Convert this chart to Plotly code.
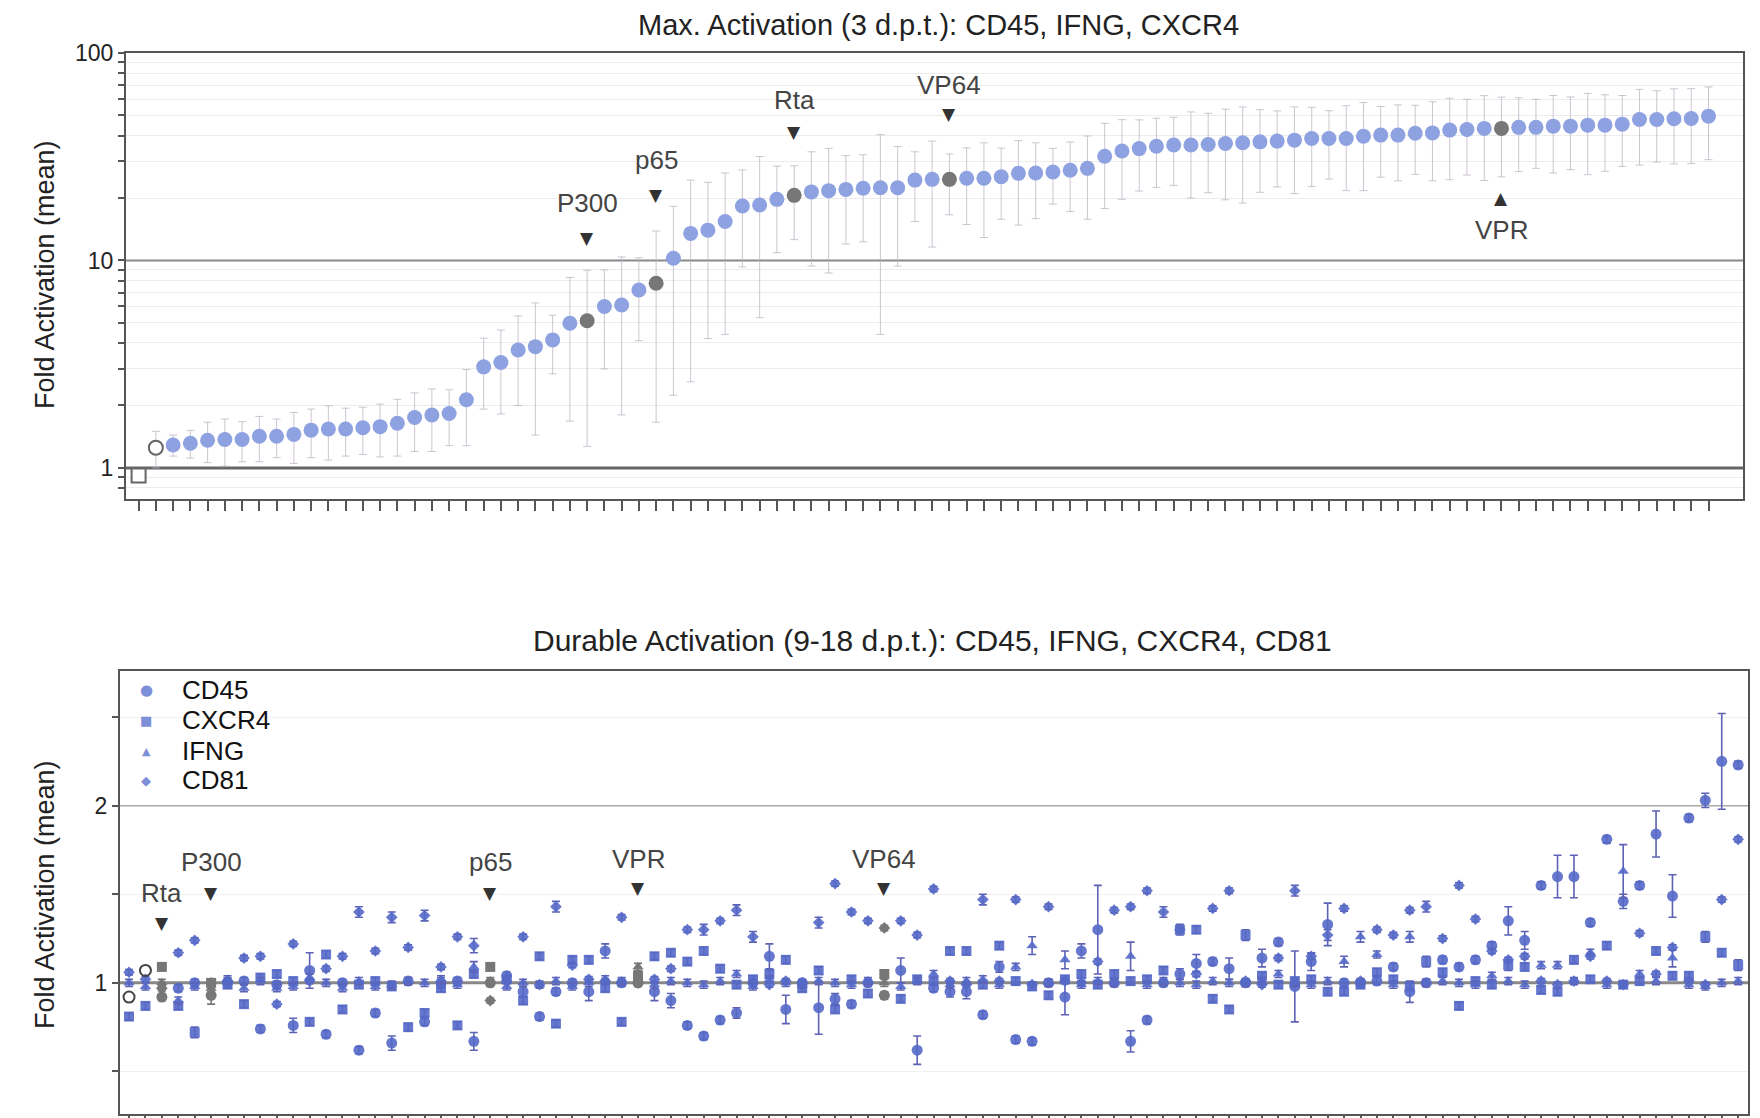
import math
import plotly.graph_objects as go

# ---------------- data: top panel (max activation, 3 d.p.t.) ----------------
top_values = [
    0.92, 1.25,
    1.29, 1.315, 1.36, 1.37, 1.37, 1.42, 1.42, 1.45, 1.52, 1.54,
    1.54, 1.56, 1.58, 1.64, 1.75, 1.80, 1.83, 2.13, 3.07, 3.22,
    3.70, 3.84, 4.14, 4.98, 5.12, 6.0, 6.1, 7.2, 7.76, 10.24,
    13.5, 14.0, 15.4, 18.3, 18.5, 19.7, 20.6, 21.4, 21.7, 22.0,
    22.3, 22.4, 22.4, 24.4, 24.6, 24.6, 24.9, 24.9, 25.3, 26.3,
    26.4, 26.7, 27.2, 27.8, 31.8, 33.7, 34.6, 35.5, 36.0, 36.0,
    36.2, 36.6, 36.9, 37.3, 37.6, 38.0, 38.7, 38.7, 38.7, 39.7,
    40.2, 40.2, 41.0, 41.2, 42.5, 42.8, 43.3, 43.3, 43.8, 43.8,
    44.4, 44.4, 44.9, 44.9, 45.4, 47.8, 47.8, 48.2, 48.3, 49.6,
]
top_sd = [
    0.0, 0.25,
    0.15, 0.2, 0.3, 0.35, 0.3, 0.35, 0.3, 0.4, 0.4, 0.45,
    0.4, 0.4, 0.45, 0.5, 0.55, 0.6, 0.55, 0.85, 1.15, 1.4,
    1.7, 2.4, 1.3, 3.3, 3.85, 3.0, 4.3, 3.1, 6.1, 8.0,
    10.9, 9.8, 11.0, 9.0, 13.2, 8.8, 8.0, 12.0, 13.0, 10.0,
    10.0, 18.0, 13.0, 9.0, 13.0, 8.0, 10.0, 12.0, 9.5, 11.5,
    10.5, 8.0, 10.0, 12.0, 14.0, 14.0, 13.0, 13.0, 13.0, 16.0,
    15.0, 17.0, 18.0, 16.0, 15.0, 17.0, 16.0, 14.0, 17.0, 18.0,
    15.0, 16.0, 15.0, 17.0, 18.0, 17.0, 19.0, 18.0, 17.0, 16.0,
    18.0, 17.0, 19.0, 18.0, 17.0, 19.0, 18.0, 19.0, 19.0, 19.0,
]
top_hl_names = ["P300", "p65", "Rta", "VP64", "VPR"]
top_hl_idx = [26, 30, 38, 47, 79]
top_open_idx = [0, 1]
top_open_symbols = ["square", "circle"]
top_ref_levels = [1, 10]

# ---------------- data: bottom panel (durable activation, 9-18 d.p.t.) ----------------
genes = ["CD45", "CXCR4", "IFNG", "CD81"]
cd45 = [
    0.92, 1.07, 0.92, 0.97, 1.00, 0.93, 1.00, 1.01, 0.74, 0.99,
    0.76, 1.07, 0.71, 1.00, 0.62, 0.83, 0.66, 1.01, 0.78, 1.00,
    1.01, 0.67, 1.00, 1.04, 0.95, 0.81, 0.95, 1.00, 0.95, 1.18,
    1.00, 1.00, 0.95, 0.90, 0.76, 0.70, 0.79, 0.83, 1.00, 1.15,
    0.85, 1.00, 0.86, 0.91, 0.88, 1.00, 0.93, 1.07, 0.62, 0.97,
    0.95, 0.95, 0.82, 1.09, 0.68, 0.67, 1.00, 0.92, 1.18, 1.30,
    1.00, 0.67, 0.79, 1.00, 1.05, 1.11, 1.12, 1.08, 1.00, 1.14,
    1.23, 0.98, 1.12, 1.33, 1.00, 1.00, 1.01, 1.09, 0.95, 1.00,
    1.13, 1.09, 1.13, 1.21, 1.35, 1.24, 1.55, 1.60, 1.60, 1.34,
    1.81, 1.46, 1.55, 1.84, 1.49, 1.93, 2.03, 2.25, 2.23,
]
cxcr4 = [
    0.81, 0.87, 1.09, 0.87, 0.72, 1.00, 0.99, 0.88, 1.03, 1.05,
    1.01, 0.78, 1.16, 0.85, 0.99, 1.01, 0.98, 0.75, 0.83, 0.97,
    0.76, 1.05, 1.09, 1.02, 0.90, 1.15, 0.77, 1.13, 1.13, 0.97,
    0.78, 1.04, 1.15, 1.17, 1.12, 1.18, 1.08, 0.99, 1.02, 1.05,
    1.13, 0.97, 1.07, 0.85, 1.02, 0.94, 1.05, 0.91, 1.02, 1.01,
    1.18, 1.18, 0.99, 1.21, 1.01, 0.98, 0.93, 1.02, 1.05, 0.99,
    1.05, 1.01, 1.02, 1.07, 1.30, 1.30, 0.91, 0.85, 1.27, 1.04,
    0.99, 1.01, 1.02, 0.95, 0.95, 0.99, 1.06, 1.02, 0.98, 1.12,
    1.06, 0.87, 1.01, 0.99, 1.10, 1.09, 0.96, 0.95, 1.13, 1.02,
    1.21, 0.99, 1.01, 1.18, 1.04, 1.04, 1.26, 1.17, 1.10,
]
ifng = [
    1.00, 0.98, 1.00, 0.90, 0.98, 0.97, 1.02, 0.97, 1.01, 0.97,
    0.98, 1.03, 1.00, 0.97, 1.01, 0.98, 0.99, 1.01, 1.00, 1.02,
    0.99, 1.09, 1.01, 0.98, 1.00, 0.99, 1.01, 0.98, 1.00, 1.02,
    1.01, 1.09, 0.99, 1.01, 1.00, 0.99, 1.01, 1.05, 0.98, 1.02,
    1.00, 0.99, 1.01, 1.00, 0.99, 1.01, 1.00, 0.98, 1.01, 1.05,
    0.99, 1.01, 1.02, 0.99, 1.09, 1.21, 1.00, 1.13, 0.99, 1.01,
    1.00, 1.15, 0.99, 1.01, 1.00, 0.99, 1.01, 1.00, 1.00, 1.01,
    1.05, 1.00, 0.99, 1.01, 1.12, 1.26, 1.16, 0.99, 1.26, 1.00,
    1.01, 1.00, 0.99, 1.04, 1.01, 0.99, 1.10, 1.10, 1.01, 1.17,
    0.99, 1.63, 1.05, 1.01, 1.14, 0.99, 0.98, 1.00, 1.01,
]
cd81 = [
    1.06, 1.02, 0.97, 1.17, 1.24, 1.00, 1.01, 1.14, 1.15, 0.88,
    1.22, 1.01, 1.08, 1.15, 1.40, 1.18, 1.37, 1.20, 1.38, 1.09,
    1.26, 1.21, 0.90, 1.01, 1.26, 0.99, 1.43, 1.10, 1.02, 1.01,
    1.37, 1.00, 1.02, 1.08, 1.30, 1.30, 1.35, 1.41, 1.26, 0.99,
    1.01, 1.00, 1.34, 1.56, 1.40, 1.35, 1.31, 1.35, 1.27, 1.53,
    1.01, 0.99, 1.47, 1.01, 1.47, 0.99, 1.43, 1.01, 1.00, 1.12,
    1.41, 1.43, 1.52, 1.40, 1.30, 1.05, 1.42, 1.52, 1.01, 0.99,
    1.14, 1.52, 1.15, 1.27, 1.42, 1.01, 1.30, 1.27, 1.41, 1.43,
    1.25, 1.55, 1.36, 1.18, 1.13, 1.15, 1.01, 0.99, 1.01, 1.15,
    1.01, 0.99, 1.28, 1.05, 1.20, 1.01, 0.99, 1.47, 1.81,
]
cd45_err = [
    0.02, 0.02, 0.02, 0.02, 0.02, 0.05, 0.03, 0.02, 0.02, 0.02,
    0.04, 0.10, 0.02, 0.02, 0.02, 0.02, 0.04, 0.02, 0.02, 0.03,
    0.02, 0.05, 0.02, 0.02, 0.03, 0.02, 0.02, 0.02, 0.05, 0.04,
    0.02, 0.02, 0.05, 0.04, 0.02, 0.02, 0.02, 0.03, 0.02, 0.07,
    0.08, 0.02, 0.15, 0.03, 0.02, 0.02, 0.02, 0.07, 0.08, 0.02,
    0.03, 0.04, 0.02, 0.03, 0.02, 0.02, 0.02, 0.10, 0.04, 0.25,
    0.02, 0.06, 0.02, 0.02, 0.03, 0.05, 0.02, 0.06, 0.02, 0.05,
    0.02, 0.20, 0.05, 0.12, 0.02, 0.02, 0.02, 0.02, 0.06, 0.02,
    0.02, 0.02, 0.02, 0.02, 0.08, 0.05, 0.02, 0.12, 0.12, 0.02,
    0.02, 0.04, 0.02, 0.13, 0.12, 0.02, 0.04, 0.27, 0.02,
]
cxcr4_err = [
    0.02, 0.02, 0.02, 0.02, 0.03, 0.02, 0.02, 0.02, 0.02, 0.02,
    0.02, 0.02, 0.02, 0.02, 0.02, 0.02, 0.02, 0.02, 0.02, 0.02,
    0.02, 0.02, 0.02, 0.02, 0.02, 0.02, 0.02, 0.02, 0.02, 0.02,
    0.02, 0.02, 0.02, 0.02, 0.02, 0.02, 0.02, 0.02, 0.02, 0.02,
    0.02, 0.02, 0.02, 0.02, 0.02, 0.02, 0.02, 0.02, 0.02, 0.02,
    0.02, 0.02, 0.02, 0.02, 0.02, 0.02, 0.02, 0.02, 0.02, 0.02,
    0.02, 0.02, 0.02, 0.02, 0.03, 0.02, 0.02, 0.02, 0.03, 0.02,
    0.02, 0.02, 0.02, 0.02, 0.02, 0.02, 0.02, 0.02, 0.02, 0.03,
    0.02, 0.02, 0.02, 0.02, 0.03, 0.02, 0.02, 0.02, 0.02, 0.02,
    0.02, 0.02, 0.02, 0.02, 0.02, 0.02, 0.03, 0.02, 0.03,
]
ifng_err = [
    0.02, 0.02, 0.02, 0.02, 0.02, 0.02, 0.02, 0.02, 0.02, 0.02,
    0.02, 0.02, 0.02, 0.02, 0.02, 0.02, 0.02, 0.02, 0.02, 0.02,
    0.02, 0.03, 0.02, 0.02, 0.02, 0.02, 0.02, 0.02, 0.02, 0.02,
    0.02, 0.02, 0.02, 0.02, 0.02, 0.02, 0.02, 0.02, 0.02, 0.02,
    0.02, 0.02, 0.02, 0.02, 0.02, 0.02, 0.02, 0.02, 0.02, 0.02,
    0.02, 0.02, 0.02, 0.02, 0.02, 0.05, 0.02, 0.05, 0.02, 0.02,
    0.02, 0.08, 0.02, 0.02, 0.02, 0.02, 0.02, 0.02, 0.02, 0.02,
    0.02, 0.02, 0.02, 0.02, 0.03, 0.03, 0.02, 0.02, 0.03, 0.02,
    0.02, 0.02, 0.02, 0.02, 0.02, 0.02, 0.02, 0.02, 0.02, 0.02,
    0.02, 0.15, 0.02, 0.02, 0.05, 0.02, 0.02, 0.02, 0.02,
]
cd81_err = [
    0.015, 0.015, 0.015, 0.015, 0.015, 0.015, 0.015, 0.015, 0.015, 0.015,
    0.015, 0.015, 0.015, 0.015, 0.03, 0.015, 0.03, 0.015, 0.03, 0.015,
    0.015, 0.04, 0.015, 0.015, 0.015, 0.015, 0.03, 0.015, 0.015, 0.015,
    0.015, 0.015, 0.015, 0.015, 0.015, 0.03, 0.015, 0.03, 0.03, 0.015,
    0.015, 0.015, 0.03, 0.015, 0.015, 0.015, 0.015, 0.015, 0.015, 0.015,
    0.015, 0.015, 0.03, 0.015, 0.015, 0.015, 0.015, 0.015, 0.015, 0.015,
    0.015, 0.015, 0.015, 0.03, 0.015, 0.015, 0.015, 0.015, 0.015, 0.015,
    0.015, 0.03, 0.015, 0.03, 0.015, 0.015, 0.015, 0.015, 0.015, 0.03,
    0.015, 0.015, 0.015, 0.015, 0.015, 0.015, 0.015, 0.015, 0.015, 0.015,
    0.015, 0.015, 0.015, 0.015, 0.015, 0.015, 0.015, 0.015, 0.015,
]
bottom_hl_names = ["Rta", "P300", "p65", "VPR", "VP64"]
bottom_hl_idx = [2, 5, 22, 31, 46]
bottom_open_idx = [0, 1]
bottom_ref_levels = [1, 2]

# ---------------- styling ----------------
W, H = 1760, 1118
OFF = 8  # page body margin offset of the plot div


def px(x):
    return (x - OFF) / W


def py(y):
    return 1 - (y - OFF) / H


FONT = "Liberation Sans, Arial, sans-serif"
TOP_BLUE = "#8ea1e0"
BOT_BLUE = "#5569c8"
LEG_BLUE = "#7d8fd8"
GREY = "#777777"
DARK = "#555555"

top_xrange = [-0.73, 93.0]
bot_xrange = [-0.55, 98.6]

fig = go.Figure()

# ----- reference lines (drawn first so markers sit on top) -----
for lvl, col, wd in zip(top_ref_levels, ["#666666", "#8a8a8a"], [3, 2]):
    fig.add_trace(go.Scatter(x=top_xrange, y=[lvl, lvl], mode="lines", line=dict(color=col, width=wd),
                             xaxis="x", yaxis="y", showlegend=False, hoverinfo="skip"))
for lvl, col, wd in zip(bottom_ref_levels, ["#888888", "#aaaaaa"], [3, 1.5]):
    fig.add_trace(go.Scatter(x=bot_xrange, y=[lvl, lvl], mode="lines", line=dict(color=col, width=wd),
                             xaxis="x2", yaxis="y2", showlegend=False, hoverinfo="skip"))

# ----- top panel -----
n_top = len(top_values)
normal_top = [i for i in range(n_top) if i not in top_hl_idx and i not in top_open_idx]
err_top = dict(type="data", visible=True, color="rgba(185,172,190,0.7)", thickness=1, width=4)

fig.add_trace(go.Scatter(
    x=normal_top, y=[top_values[i] for i in normal_top], mode="markers",
    marker=dict(size=15, color=TOP_BLUE),
    error_y=dict(array=[top_sd[i] for i in normal_top], **err_top),
    xaxis="x", yaxis="y", showlegend=False))
fig.add_trace(go.Scatter(
    x=top_hl_idx, y=[top_values[i] for i in top_hl_idx], mode="markers",
    marker=dict(size=15, color=GREY),
    error_y=dict(array=[top_sd[i] for i in top_hl_idx], **err_top),
    xaxis="x", yaxis="y", showlegend=False))
fig.add_trace(go.Scatter(
    x=top_open_idx, y=[top_values[i] for i in top_open_idx], mode="markers",
    marker=dict(size=14, color="white", symbol=top_open_symbols, line=dict(color="#666", width=2)),
    error_y=dict(array=[top_sd[i] for i in top_open_idx], **err_top),
    xaxis="x", yaxis="y", showlegend=False))

# ----- bottom panel -----
n_bot = len(cd45)
gene_vals = [cd45, cxcr4, ifng, cd81]
gene_errs = [cd45_err, cxcr4_err, ifng_err, cd81_err]
gene_symbols = ["circle", "square", "triangle-up", "diamond"]
gene_sizes = [11, 10, 10, 9]
for g, vals, errs, sym, sz in zip(genes, gene_vals, gene_errs, gene_symbols, gene_sizes):
    skip = set(bottom_hl_idx) | (set(bottom_open_idx) if g == "CD45" else set())
    idx = [i for i in range(n_bot) if i not in skip]
    fig.add_trace(go.Scatter(
        x=idx, y=[vals[i] for i in idx], mode="markers", name=g,
        marker=dict(size=sz, color=BOT_BLUE, symbol=sym, opacity=0.9),
        error_y=dict(type="data", array=[errs[i] for i in idx], visible=True,
                     color="#5d62b5", thickness=1.6, width=4),
        xaxis="x2", yaxis="y2", showlegend=False))
    fig.add_trace(go.Scatter(
        x=bottom_hl_idx, y=[vals[i] for i in bottom_hl_idx], mode="markers",
        marker=dict(size=sz, color=GREY, symbol=sym),
        error_y=dict(type="data", array=[errs[i] for i in bottom_hl_idx], visible=True,
                     color=GREY, thickness=1.6, width=4),
        xaxis="x2", yaxis="y2", showlegend=False))
fig.add_trace(go.Scatter(
    x=bottom_open_idx, y=[cd45[i] for i in bottom_open_idx], mode="markers",
    marker=dict(size=11, color="rgba(255,255,255,0)", symbol="circle", line=dict(color="#444", width=2)),
    xaxis="x2", yaxis="y2", showlegend=False))

# ----- axes -----
minor_vals = [0.7, 0.8, 0.9, 1, 2, 3, 4, 5, 6, 7, 8, 9, 10, 20, 30, 40, 50, 60, 70, 80, 90, 100]
minor_text = ["1" if v == 1 else "10" if v == 10 else "100" if v == 100 else "" for v in minor_vals]

axis_common = dict(showline=True, linecolor=DARK, linewidth=2, mirror=True, zeroline=False,
                   automargin=False)

fig.update_layout(
    width=W, height=H, margin=dict(l=0, r=0, t=0, b=0, autoexpand=False),
    paper_bgcolor="white", plot_bgcolor="white", showlegend=False,
    font=dict(family=FONT, color="#222"),
    xaxis=dict(domain=[px(126), px(1743)], range=top_xrange, anchor="y",
               tickvals=list(range(n_top)), ticks="outside", ticklen=10, tickwidth=2,
               tickcolor=DARK, showticklabels=False, showgrid=False, **axis_common),
    yaxis=dict(domain=[py(499), py(53)], type="log", range=[-0.15, 2.0], anchor="x",
               tickvals=minor_vals, ticktext=minor_text, ticks="outside", ticklen=6, tickwidth=2,
               tickcolor=DARK, showgrid=True, gridcolor="#ececec", gridwidth=1,
               tickfont=dict(size=23, color="#222"), **axis_common),
    xaxis2=dict(domain=[px(120), px(1748)], range=bot_xrange, anchor="y2",
                tickvals=list(range(n_bot)), ticks="outside", ticklen=10, tickwidth=2,
                tickcolor=DARK, showticklabels=False, showgrid=False, **axis_common),
    yaxis2=dict(domain=[py(1114), py(671)], range=[0.26, 2.76], anchor="x2",
                tickvals=[0.5, 1, 1.5, 2, 2.5], ticktext=["", "1", "", "2", ""],
                ticks="outside", ticklen=6, tickwidth=2, tickcolor=DARK,
                showgrid=True, gridcolor="#f1f1f1", gridwidth=1,
                tickfont=dict(size=23, color="#222"), **axis_common),
)

ann = []
# titles
ann.append(dict(text="Max. Activation (3 d.p.t.): CD45, IFNG, CXCR4", xref="paper", yref="paper",
                x=px(938), y=py(25), xanchor="center", yanchor="middle", showarrow=False,
                font=dict(size=29, color="#222")))
ann.append(dict(text="Durable Activation (9-18 d.p.t.): CD45, IFNG, CXCR4, CD81", xref="paper", yref="paper",
                x=px(932), y=py(640), xanchor="center", yanchor="middle", showarrow=False,
                font=dict(size=30, color="#222")))
for yc in (275, 895):
    ann.append(dict(text="Fold Activation (mean)", xref="paper", yref="paper", x=px(45), y=py(yc),
                    xanchor="center", yanchor="middle", textangle=-90, showarrow=False,
                    font=dict(size=27, color="#222")))

# top markers labels (pixel offsets relative to the point)
top_offsets = {"P300": (83, 118), "p65": (88, 123), "Rta": (63, 95), "VP64": (65, 94), "VPR": (-70, -102)}
for name, i in zip(top_hl_names, top_hl_idx):
    a_off, t_off = top_offsets[name]
    yv = math.log10(top_values[i])
    ann.append(dict(text="▼" if a_off > 0 else "▲", x=i, y=yv, xref="x", yref="y", yshift=a_off,
                    xanchor="center", yanchor="middle", showarrow=False,
                    font=dict(size=17, color="#333", family="DejaVu Sans")))
    ann.append(dict(text=name, x=i, y=yv, xref="x", yref="y", yshift=t_off,
                    xanchor="center", yanchor="middle", showarrow=False,
                    font=dict(size=26, color="#444")))

# bottom marker labels
bottom_label_y = {"Rta": (1.34, 1.51), "P300": (1.51, 1.68), "p65": (1.51, 1.68),
                  "VPR": (1.535, 1.70), "VP64": (1.535, 1.70)}
for name, i in zip(bottom_hl_names, bottom_hl_idx):
    ya, yt = bottom_label_y[name]
    ann.append(dict(text="▼", x=i, y=ya, xref="x2", yref="y2", xanchor="center", yanchor="middle",
                    showarrow=False, font=dict(size=17, color="#333", family="DejaVu Sans")))
    ann.append(dict(text=name, x=i, y=yt, xref="x2", yref="y2", xanchor="center", yanchor="middle",
                    showarrow=False, font=dict(size=26, color="#444")))

# legend (drawn as text glyphs + labels)
legend_glyphs = ["●", "■", "▲", "◆"]
legend_glyph_sizes = [15, 13, 11, 13]
legend_rows_y = [690, 720, 751, 780]
for g, glyph, gs, yy in zip(genes, legend_glyphs, legend_glyph_sizes, legend_rows_y):
    ann.append(dict(text=glyph, xref="paper", yref="paper", x=px(146), y=py(yy),
                    xanchor="center", yanchor="middle", showarrow=False,
                    font=dict(size=gs, color=LEG_BLUE, family="DejaVu Sans")))
    ann.append(dict(text=g, xref="paper", yref="paper", x=px(180), y=py(yy),
                    xanchor="left", yanchor="middle", showarrow=False,
                    font=dict(size=26, color="#111")))

fig.update_layout(annotations=ann)

fig.write_html("out.html")
